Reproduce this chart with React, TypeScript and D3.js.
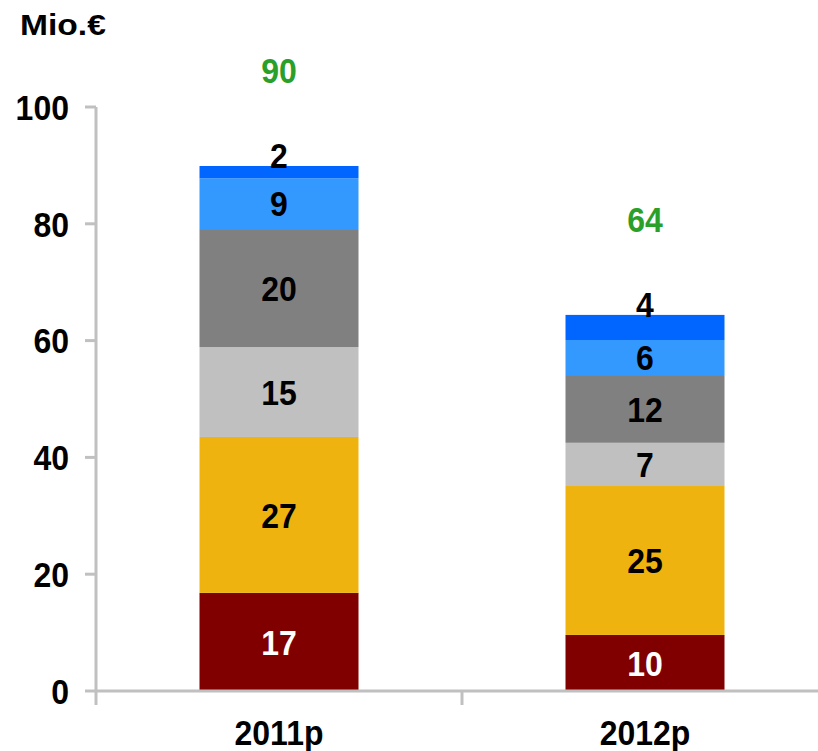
import React from "react";
import * as d3 from "d3";

const categories = ["2011p", "2012p"];
const seriesKeys = ["s1", "s2", "s3", "s4", "s5", "s6"];
const seriesColors = ["#800000", "#EFB310", "#C0C0C0", "#808080", "#3399FF", "#0066FF"];
const labelColors = ["#FFFFFF", "#000000", "#000000", "#000000", "#000000", "#000000"];
const values2011 = [16.8, 26.7, 15.4, 20.2, 8.7, 2.1];
const values2012 = [9.6, 25.5, 7.4, 11.6, 6.0, 4.3];
const labels2011 = ["17", "27", "15", "20", "9", "2"];
const labels2012 = ["10", "25", "7", "12", "6", "4"];
const totals = ["90", "64"];
const yTicks = [0, 20, 40, 60, 80, 100];

const W = 818;
const H = 751;
const FONT = "'Liberation Sans', Arial, sans-serif";
const FS = 32;
const SY = 1.12;

function T({ x, y, anchor = "middle", fill = "#000", size = FS, sx = 1, sy = SY, children }: any) {
  return (
    <text
      transform={`translate(${x},${y}) scale(${sx},${sy})`}
      textAnchor={anchor}
      fontSize={size}
      fontWeight="bold"
      fill={fill}
    >
      {children}
    </text>
  );
}

export default function App() {
  const values = [values2011, values2012];
  const labels = [labels2011, labels2012];
  const rows = categories.map((c, i) => {
    const r: any = { cat: c };
    seriesKeys.forEach((k, j) => (r[k] = values[i][j]));
    return r;
  });
  const stack = d3.stack<any>().keys(seriesKeys)(rows);

  const y = d3.scaleLinear().domain([0, 100]).range([691, 107]);
  const x = d3.scaleBand().domain(categories).range([96, 828]).paddingInner(0).paddingOuter(0);
  const barW = 159;
  const cx = (c: string) => (x(c) as number) + x.bandwidth() / 2;
  const axisColor = "#C0C0C0";
  const half = 12.8;

  return (
    <svg width={W} height={H} style={{ position: "absolute", left: 0, top: 0 }} fontFamily={FONT}>
      <rect width={W} height={H} fill="#fff" />
      {stack.map((s, j) =>
        s.map((d, i) => (
          <rect
            key={`${j}-${i}`}
            x={cx(categories[i]) - barW / 2}
            width={barW}
            y={y(d[1])}
            height={y(d[0]) - y(d[1])}
            fill={seriesColors[j]}
          />
        ))
      )}
      {stack.map((s, j) =>
        s.map((d, i) => {
          const isTop = j === seriesKeys.length - 1;
          const yy = isTop ? y(d[1]) + 2 : (y(d[0]) + y(d[1])) / 2 + half;
          return (
            <T key={`l${j}-${i}`} x={cx(categories[i])} y={yy} fill={labelColors[j]}>
              {labels[i][j]}
            </T>
          );
        })
      )}
      {categories.map((c, i) => {
        const top = stack[stack.length - 1][i][1];
        return (
          <T key={`t${c}`} x={cx(c)} y={y(top) - 83} fill="#2A9F2A">
            {totals[i]}
          </T>
        );
      })}
      <line x1={96} x2={96} y1={y(100)} y2={y(0)} stroke={axisColor} strokeWidth={3} />
      {yTicks.map((t) => (
        <g key={`yt${t}`}>
          <line x1={85} x2={96} y1={y(t)} y2={y(t)} stroke={axisColor} strokeWidth={3} />
          <T x={69} y={y(t) + half} anchor="end">
            {t}
          </T>
        </g>
      ))}
      <line x1={96} x2={W} y1={y(0)} y2={y(0)} stroke={axisColor} strokeWidth={3} />
      {[...categories.map((c) => x(c) as number), 828].map((v, i) => (
        <line key={`xt${i}`} x1={v} x2={v} y1={y(0)} y2={y(0) + 14} stroke={axisColor} strokeWidth={3} />
      ))}
      {categories.map((c) => (
        <T key={`xl${c}`} x={cx(c)} y={745}>
          {c}
        </T>
      ))}
      <T x={20} y={35} anchor="start" size={30} sx={1.12} sy={1.0}>
        Mio.€
      </T>
    </svg>
  );
}
